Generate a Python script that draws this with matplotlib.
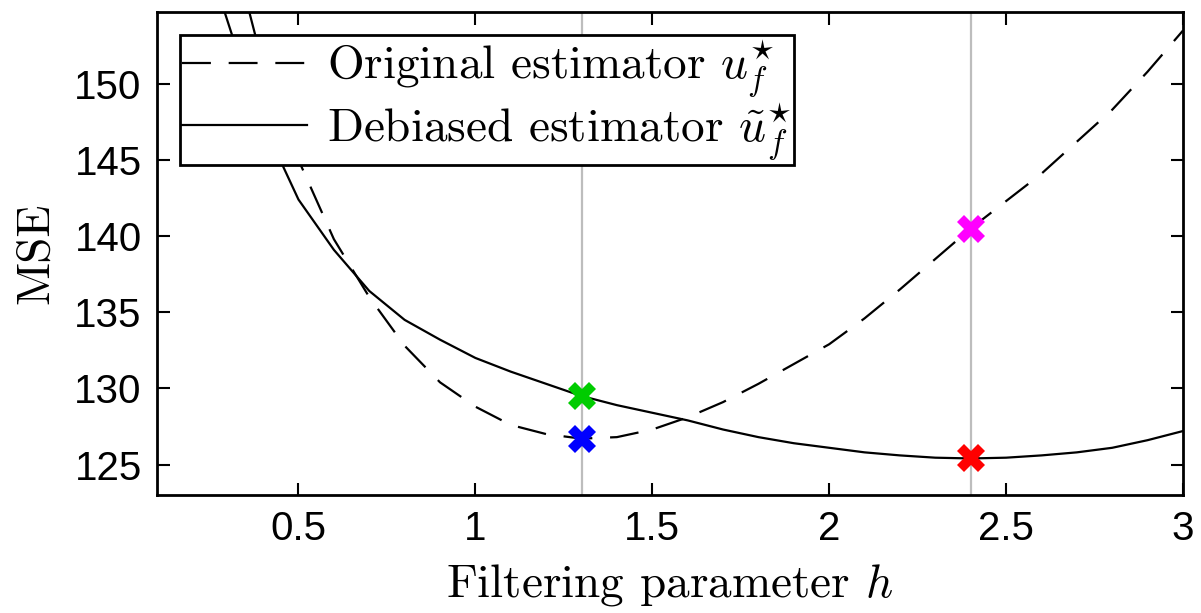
import matplotlib
matplotlib.use("Agg")
import matplotlib.pyplot as plt
import numpy as np

plt.rcParams['mathtext.fontset'] = 'cm'
plt.rcParams['axes.unicode_minus'] = False

# Data
h_debiased = [0.29, 0.35, 0.40, 0.45, 0.50, 0.60, 0.70, 0.80, 0.90, 1.00, 1.10, 1.20, 1.30,
              1.40, 1.50, 1.60, 1.70, 1.80, 1.90, 2.00, 2.10, 2.20, 2.30, 2.40, 2.50, 2.60,
              2.70, 2.80, 2.90, 3.00]
mse_debiased = [154.8, 150.5, 147.6, 144.9, 142.4, 139.1, 136.4, 134.5, 133.2, 132.0, 131.1,
                130.3, 129.5, 128.9, 128.4, 127.9, 127.3, 126.8, 126.4, 126.1, 125.8, 125.6,
                125.45, 125.4, 125.45, 125.6, 125.8, 126.1, 126.6, 127.2]

h_original = [0.36, 0.40, 0.45, 0.50, 0.60, 0.70, 0.80, 0.90, 1.00, 1.10, 1.20, 1.30, 1.40,
              1.50, 1.60, 1.70, 1.80, 1.90, 2.00, 2.10, 2.20, 2.30, 2.40, 2.50, 2.60, 2.70,
              2.80, 2.90, 3.00]
mse_original = [154.8, 151.2, 148.0, 145.0, 139.8, 136.0, 132.8, 130.4, 128.8, 127.6, 127.0,
                126.7, 126.8, 127.3, 128.1, 129.1, 130.3, 131.6, 132.9, 134.6, 136.5, 138.5,
                140.5, 142.3, 144.1, 146.2, 148.3, 150.8, 153.5]

vlines_h = [1.3, 2.4]
marker_h = [1.3, 1.3, 2.4, 2.4]
marker_mse = [129.5, 126.7, 140.5, 125.4]
marker_colors = ['#00cc00', '#0000ff', '#ff00ff', '#ff0000']

xticks = [0.5, 1, 1.5, 2, 2.5, 3]
xticklabels = ['0.5', '1', '1.5', '2', '2.5', '3']
yticks = [125, 130, 135, 140, 145, 150]
yticklabels = ['125', '130', '135', '140', '145', '150']

fig = plt.figure(figsize=(12.01, 6.13), dpi=100)
ax = fig.add_axes([0.1307, 0.1925, 0.8543, 0.7875])

for v in vlines_h:
    ax.axvline(v, color='#bdbdbd', lw=1.6, zorder=1)

ax.plot(h_original, mse_original, color='black', lw=1.6, dashes=(13, 8),
        label=r'Original estimator $u_f^{\star}$', zorder=2)
ax.plot(h_debiased, mse_debiased, color='black', lw=1.6,
        label=r'Debiased estimator $\tilde{u}_f^{\star}$', zorder=2)

for x, y, c in zip(marker_h, marker_mse, marker_colors):
    ax.plot([x], [y], marker='X', color=c, markersize=20, markeredgewidth=0,
            linestyle='none', zorder=3)

ax.set_xlim(0.1, 3.0)
ax.set_ylim(123.0, 154.7)
ax.set_xticks(xticks)
ax.set_xticklabels(xticklabels)
ax.set_yticks(yticks)
ax.set_yticklabels(yticklabels)

for lab in ax.get_xticklabels() + ax.get_yticklabels():
    lab.set_family(['Liberation Sans', 'DejaVu Sans'])
    lab.set_fontsize(29)

ax.tick_params(direction='in', length=9, width=1.5, top=True, right=True, pad=11)
for s in ax.spines.values():
    s.set_linewidth(2)

ax.set_xlabel(r'Filtering parameter $h$', family='cmr10', fontsize=34, labelpad=10)
ax.set_ylabel('MSE', family='cmr10', fontsize=34, labelpad=12)

leg = ax.legend(loc='upper left', prop={'family': 'cmr10', 'size': 34},
                handlelength=2.65, handletextpad=0.42, borderpad=0.05,
                labelspacing=0.0, fancybox=False, framealpha=1,
                bbox_to_anchor=(0.022, 0.952), borderaxespad=0)
leg.get_frame().set_edgecolor('black')
leg.get_frame().set_linewidth(2)

fig.savefig('out.png', dpi=100)
